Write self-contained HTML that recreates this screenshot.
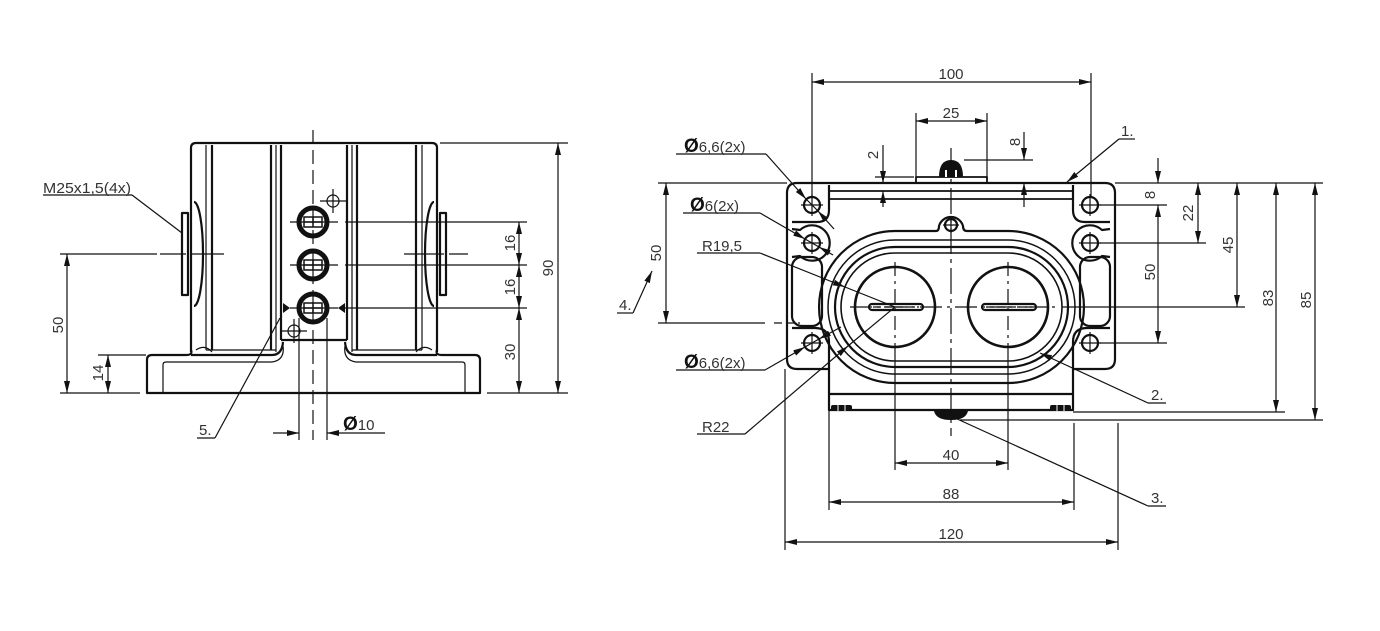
<!DOCTYPE html>
<html><head><meta charset="utf-8">
<style>
html,body{margin:0;padding:0;background:#fff;}
svg{display:block;}
text{font-family:"Liberation Sans",sans-serif;font-size:15px;fill:#333;}
.o{font-size:19px;font-weight:bold;fill:#111;}
</style></head><body>
<svg width="1380" height="631" viewBox="0 0 1380 631" xmlns="http://www.w3.org/2000/svg">
<defs>
<marker id="a" viewBox="0 0 12 6" markerWidth="12" markerHeight="6" refX="12" refY="3" orient="auto-start-reverse" markerUnits="userSpaceOnUse"><path d="M0,0 L12,3 L0,6 z" fill="#111"/></marker>
</defs>
<rect width="1380" height="631" fill="#fff"/>

<!-- ================= LEFT VIEW ================= -->
<g fill="none" stroke="#111" stroke-width="2.2" stroke-linejoin="round">
  <!-- body outline -->
  <path d="M191 352 L191 148 Q191 143 196 143 L432 143 Q437 143 437 148 L437 352"/>
  <line x1="212" y1="145" x2="212" y2="350"/>
  <line x1="271" y1="145" x2="271" y2="350"/>
  <line x1="281" y1="145" x2="281" y2="340"/>
  <line x1="347" y1="145" x2="347" y2="340"/>
  <line x1="357" y1="145" x2="357" y2="350"/>
  <line x1="416" y1="145" x2="416" y2="350"/>
  <line x1="281" y1="340" x2="347" y2="340"/>
  <!-- base -->
  <path d="M191 350 Q193 355 186 355 L152 355 Q147 355 147 360 L147 393 L480 393 L480 360 Q480 355 475 355 L442 355 Q435 355 437 350"/>
  <path d="M191 355 L272 355 Q282 355 283 342"/>
  <path d="M437 355 L356 355 Q346 355 345 342"/>
  <!-- ports -->
  <rect x="182" y="213" width="6" height="82"/>
  <path d="M194 202 A9 52 0 0 1 194 306"/>
  <rect x="440" y="213" width="6" height="82"/>
  <path d="M434 202 A9 52 0 0 0 434 306"/>
</g>
<g fill="none" stroke="#111" stroke-width="1.2">
  <line x1="206" y1="145" x2="206" y2="350"/>
  <line x1="276" y1="145" x2="276" y2="352"/>
  <line x1="352" y1="145" x2="352" y2="352"/>
  <line x1="422" y1="145" x2="422" y2="350"/>
  <line x1="206" y1="350" x2="276" y2="350"/>
  <line x1="352" y1="350" x2="422" y2="350"/>
  <path d="M163 393 L163 365 Q163 362 166 362 L272 362 Q285 360 283 346"/>
  <path d="M465 393 L465 365 Q465 362 462 362 L356 362 Q343 360 345 346"/>
  <path d="M196 350 Q205 344 212 352"/>
  <path d="M432 350 Q423 344 416 352"/>
  <!-- port center lines -->
  <line x1="160" y1="254" x2="224" y2="254" stroke-dasharray="26 5 40 0"/>
  <line x1="404" y1="254" x2="468" y2="254" stroke-dasharray="40 5 26 0"/>
  <!-- center axis -->
  <line x1="313" y1="130" x2="313" y2="440" stroke-dasharray="14 6"/>
  <!-- hole cross lines -->
  <line x1="290" y1="222" x2="338" y2="222"/>
  <line x1="290" y1="265" x2="338" y2="265"/>
  <line x1="290" y1="308" x2="338" y2="308"/>
  <line x1="345" y1="222" x2="527" y2="222"/>
  <line x1="345" y1="265" x2="527" y2="265"/>
  <line x1="345" y1="308" x2="527" y2="308"/>
  <!-- small crosshair holes -->
  <circle cx="333" cy="201" r="6"/>
  <line x1="320" y1="201" x2="346" y2="201"/><line x1="333" y1="189" x2="333" y2="213"/>
  <circle cx="294" cy="331" r="6"/>
  <line x1="281" y1="331" x2="307" y2="331"/><line x1="294" y1="319" x2="294" y2="343"/>
  <!-- Ø10 extension -->
  <line x1="299" y1="318" x2="299" y2="440"/>
  <line x1="327" y1="318" x2="327" y2="440"/>
  <!-- dims -->
  <line x1="60" y1="254" x2="157" y2="254"/>
  <line x1="60" y1="393" x2="140" y2="393"/>
  <line x1="98" y1="355" x2="146" y2="355"/>
  <line x1="67" y1="254" x2="67" y2="393" marker-start="url(#a)" marker-end="url(#a)"/>
  <line x1="108" y1="355" x2="108" y2="393" marker-start="url(#a)" marker-end="url(#a)"/>
  <line x1="440" y1="143" x2="568" y2="143"/>
  <line x1="487" y1="393" x2="568" y2="393"/>
  <line x1="519" y1="222" x2="519" y2="265" marker-start="url(#a)" marker-end="url(#a)"/>
  <line x1="519" y1="265" x2="519" y2="308" marker-start="url(#a)" marker-end="url(#a)"/>
  <line x1="519" y1="308" x2="519" y2="393" marker-start="url(#a)" marker-end="url(#a)"/>
  <line x1="558" y1="143" x2="558" y2="393" marker-start="url(#a)" marker-end="url(#a)"/>
  <line x1="273" y1="433" x2="299" y2="433" marker-end="url(#a)"/>
  <line x1="385" y1="433" x2="327" y2="433" marker-end="url(#a)"/>
  <!-- labels -->
  <line x1="43" y1="195" x2="132" y2="195"/>
  <line x1="132" y1="195" x2="182" y2="233"/>
  <line x1="197" y1="438" x2="215" y2="438"/>
  <line x1="215" y1="438" x2="280" y2="318"/>
</g>
<!-- indicator holes -->
<g fill="none" stroke="#111">
  <circle cx="313" cy="222" r="14" stroke-width="5"/>
  <circle cx="313" cy="265" r="14" stroke-width="5"/>
  <circle cx="313" cy="308" r="14" stroke-width="5"/>
  <g stroke-width="1.5">
    <rect x="304" y="217" width="18" height="10"/><line x1="304" y1="222" x2="322" y2="222"/><line x1="313" y1="217" x2="313" y2="227"/>
    <rect x="304" y="260" width="18" height="10"/><line x1="304" y1="265" x2="322" y2="265"/><line x1="313" y1="260" x2="313" y2="270"/>
    <rect x="304" y="303" width="18" height="10"/><line x1="304" y1="308" x2="322" y2="308"/><line x1="313" y1="303" x2="313" y2="313"/>
  </g>
</g>
<polygon points="283,303 290,308 283,313" fill="#111"/>
<polygon points="345,303 338,308 345,313" fill="#111"/>

<text x="43" y="193" textLength="88" lengthAdjust="spacingAndGlyphs">M25x1,5(4x)</text>
<text x="199" y="435">5.</text>
<text x="343" y="430"><tspan class="o">Ø</tspan>10</text>
<text transform="translate(63,325) rotate(-90)" text-anchor="middle">50</text>
<text transform="translate(103,373) rotate(-90)" text-anchor="middle">14</text>
<text transform="translate(515,243) rotate(-90)" text-anchor="middle">16</text>
<text transform="translate(515,287) rotate(-90)" text-anchor="middle">16</text>
<text transform="translate(515,352) rotate(-90)" text-anchor="middle">30</text>
<text transform="translate(553,268) rotate(-90)" text-anchor="middle">90</text>

<!-- ================= RIGHT VIEW ================= -->
<g fill="none" stroke="#111" stroke-width="2.2" stroke-linejoin="round">
  <!-- outline -->
  <path d="M797 183 L1105 183 Q1115 183 1115 193 L1115 359 Q1115 369 1105 369 L1073 369 L1073 410 L829 410 L829 369 L797 369 Q787 369 787 359 L787 193 Q787 183 797 183 Z"/>
  <!-- tabs -->
  <path d="M829 185 L829 210 Q829 222 817 222 L792 222"/>
  <path d="M792 229 L800 230 A17.7 17.7 0 1 1 800 256 L792 257"/>
  <rect x="792" y="257" width="30" height="69" rx="10"/>
  <path d="M792 328 L815 328 Q829 328 829 342 L829 369"/>
  <path d="M1073 185 L1073 210 Q1073 222 1085 222 L1110 222"/>
  <path d="M1110 229 L1102 230 A17.7 17.7 0 1 0 1102 256 L1110 257"/>
  <rect x="1080" y="257" width="30" height="69" rx="10"/>
  <path d="M1110 328 L1087 328 Q1073 328 1073 342 L1073 369"/>
  <!-- top band -->
  <line x1="829" y1="191" x2="1073" y2="191" stroke-width="1.8"/>
  <line x1="829" y1="199" x2="1073" y2="199" stroke-width="1.8"/>
  <!-- lower body -->
  <line x1="829" y1="394" x2="1073" y2="394"/>
  <!-- knob plate -->
  <rect x="916" y="177" width="71" height="6" stroke-width="1.8"/>
  <!-- rings -->
  <path d="M895 231 L936 231 Q939 231 939 226 A12.5 12.5 0 0 1 963 226 Q963 231 967 231 L1008 231 A76 76 0 0 1 1008 383 L895 383 A76 76 0 0 1 895 231 Z"/>
  <path d="M895 240 L1008 240 A67 67 0 0 1 1008 374 L895 374 A67 67 0 0 1 895 240 Z" stroke-width="1.5"/>
  <path d="M895 247 L1008 247 A60 60 0 0 1 1008 367 L895 367 A60 60 0 0 1 895 247 Z"/>
  <path d="M895 253 L1008 253 A54 54 0 0 1 1008 361 L895 361 A54 54 0 0 1 895 253 Z" stroke-width="1.6"/>
  <!-- big circles -->
  <circle cx="895" cy="307" r="40" stroke-width="2.6"/>
  <circle cx="1008" cy="307" r="40" stroke-width="2.6"/>
  <rect x="869" y="304" width="54" height="6" rx="3"/>
  <rect x="982" y="304" width="54" height="6" rx="3"/>
  <!-- holes -->
  <circle cx="812" cy="205" r="8"/><circle cx="812" cy="243" r="8"/><circle cx="812" cy="343" r="8"/>
  <circle cx="1090" cy="205" r="8"/><circle cx="1090" cy="243" r="8"/><circle cx="1090" cy="343" r="8"/>
  <circle cx="951" cy="225" r="6"/>
</g>
<!-- knob dome and bottom knob -->
<path d="M939 177 Q939 160 951 160 Q963 160 963 177 Z" fill="#111"/>
<path d="M946 177 L946 170 M956 177 L956 170" stroke="#fff" stroke-width="2"/>
<path d="M934 411 Q936 420 951 420 Q966 420 968 411 Z" fill="#111"/>
<rect x="831" y="405" width="21" height="6" rx="2" fill="#111"/>
<rect x="1050" y="405" width="21" height="6" rx="2" fill="#111"/>
<g fill="none" stroke="#fff" stroke-width="1">
  <line x1="838" y1="405" x2="838" y2="411"/><line x1="845" y1="405" x2="845" y2="411"/>
  <line x1="1057" y1="405" x2="1057" y2="411"/><line x1="1064" y1="405" x2="1064" y2="411"/>
</g>
<g fill="none" stroke="#111" stroke-width="1.2">
  <!-- hole crosses -->
  <path d="M801 205 H823 M812 194 V216 M801 243 H823 M812 232 V254 M801 343 H823 M812 332 V354"/>
  <path d="M1079 205 H1101 M1090 194 V216 M1079 243 H1101 M1090 232 V254 M1079 343 H1101 M1090 332 V354"/>
  <path d="M943 225 H959 M951 217 V233"/>
  <!-- slot dashes -->
  <line x1="873" y1="307" x2="919" y2="307" stroke-dasharray="8 3"/>
  <line x1="986" y1="307" x2="1032" y2="307" stroke-dasharray="8 3"/>
  <!-- axes -->
  <line x1="850" y1="307" x2="1055" y2="307" stroke-dasharray="22 5 3 5"/>
  <line x1="895" y1="262" x2="895" y2="352" stroke-dasharray="14 5 3 5"/>
  <line x1="1008" y1="262" x2="1008" y2="352" stroke-dasharray="14 5 3 5"/>
  <line x1="951" y1="148" x2="951" y2="436" stroke-dasharray="26 5 4 5"/>
  <!-- extension lines -->
  <line x1="812" y1="73" x2="812" y2="196"/>
  <line x1="1091" y1="73" x2="1091" y2="196"/>
  <line x1="916" y1="113" x2="916" y2="177"/>
  <line x1="987" y1="113" x2="987" y2="177"/>
  <line x1="875" y1="177" x2="914" y2="177"/>
  <line x1="964" y1="160" x2="1033" y2="160"/>
  <line x1="1115" y1="183" x2="1323" y2="183"/>
  <line x1="1100" y1="205" x2="1167" y2="205"/>
  <line x1="1100" y1="243" x2="1206" y2="243"/>
  <line x1="1062" y1="307" x2="1245" y2="307"/>
  <line x1="1100" y1="343" x2="1167" y2="343"/>
  <line x1="1073" y1="412" x2="1285" y2="412"/>
  <line x1="960" y1="420" x2="1323" y2="420"/>
  <line x1="658" y1="183" x2="787" y2="183"/>
  <line x1="658" y1="323" x2="765" y2="323"/>
  <line x1="774" y1="323" x2="800" y2="323" stroke-dasharray="8 4"/>
  <line x1="895" y1="352" x2="895" y2="470"/>
  <line x1="1008" y1="352" x2="1008" y2="470"/>
  <line x1="829" y1="410" x2="829" y2="510"/>
  <line x1="1074" y1="423" x2="1074" y2="510"/>
  <line x1="785" y1="369" x2="785" y2="550"/>
  <line x1="1118" y1="423" x2="1118" y2="550"/>
  <!-- dimension lines -->
  <line x1="812" y1="82" x2="1091" y2="82" marker-start="url(#a)" marker-end="url(#a)"/>
  <line x1="916" y1="121" x2="987" y2="121" marker-start="url(#a)" marker-end="url(#a)"/>
  <line x1="883" y1="145" x2="883" y2="183" marker-end="url(#a)"/>
  <line x1="883" y1="207" x2="883" y2="191" marker-end="url(#a)"/>
  <line x1="1024" y1="132" x2="1024" y2="160" marker-end="url(#a)"/>
  <line x1="1024" y1="207" x2="1024" y2="183" marker-end="url(#a)"/>
  <line x1="1158" y1="158" x2="1158" y2="183" marker-end="url(#a)"/>
  <line x1="1158" y1="205" x2="1158" y2="343" marker-start="url(#a)" marker-end="url(#a)"/>
  <line x1="1198" y1="183" x2="1198" y2="243" marker-start="url(#a)" marker-end="url(#a)"/>
  <line x1="1237" y1="183" x2="1237" y2="307" marker-start="url(#a)" marker-end="url(#a)"/>
  <line x1="1276" y1="183" x2="1276" y2="412" marker-start="url(#a)" marker-end="url(#a)"/>
  <line x1="1315" y1="183" x2="1315" y2="420" marker-start="url(#a)" marker-end="url(#a)"/>
  <line x1="666" y1="183" x2="666" y2="323" marker-start="url(#a)" marker-end="url(#a)"/>
  <line x1="895" y1="463" x2="1008" y2="463" marker-start="url(#a)" marker-end="url(#a)"/>
  <line x1="829" y1="502" x2="1074" y2="502" marker-start="url(#a)" marker-end="url(#a)"/>
  <line x1="785" y1="542" x2="1118" y2="542" marker-start="url(#a)" marker-end="url(#a)"/>
  <!-- leaders -->
  <line x1="676" y1="154" x2="766" y2="154"/>
  <line x1="766" y1="154" x2="806" y2="199" marker-end="url(#a)"/>
  <line x1="834" y1="229" x2="818" y2="211" marker-end="url(#a)"/>
  <line x1="806" y1="199" x2="818" y2="211"/>
  <line x1="683" y1="213" x2="760" y2="213"/>
  <line x1="760" y1="213" x2="805" y2="239" marker-end="url(#a)"/>
  <line x1="833" y1="255" x2="819" y2="247" marker-end="url(#a)"/>
  <line x1="805" y1="239" x2="819" y2="247"/>
  <line x1="697" y1="253" x2="760" y2="253"/>
  <line x1="760" y1="253" x2="845" y2="287" marker-end="url(#a)"/>
  <line x1="845" y1="287" x2="895" y2="307"/>
  <line x1="676" y1="370" x2="765" y2="370"/>
  <line x1="765" y1="370" x2="805" y2="347" marker-end="url(#a)"/>
  <line x1="841" y1="327" x2="819" y2="339" marker-end="url(#a)"/>
  <line x1="805" y1="347" x2="819" y2="339"/>
  <line x1="697" y1="434" x2="745" y2="434"/>
  <line x1="745" y1="434" x2="848" y2="346" marker-end="url(#a)"/>
  <line x1="848" y1="346" x2="895" y2="307"/>
  <line x1="617" y1="313" x2="633" y2="313"/>
  <line x1="633" y1="313" x2="652" y2="271" marker-end="url(#a)"/>
  <line x1="1135" y1="139" x2="1119" y2="139"/>
  <line x1="1119" y1="139" x2="1067" y2="182" marker-end="url(#a)"/>
  <line x1="1166" y1="403" x2="1148" y2="403"/>
  <line x1="1148" y1="403" x2="1040" y2="353" marker-end="url(#a)"/>
  <line x1="1166" y1="506" x2="1148" y2="506"/>
  <line x1="1148" y1="506" x2="955" y2="418"/>
</g>

<text x="951" y="79" text-anchor="middle">100</text>
<text x="951" y="118" text-anchor="middle">25</text>
<text x="951" y="460" text-anchor="middle">40</text>
<text x="951" y="499" text-anchor="middle">88</text>
<text x="951" y="539" text-anchor="middle">120</text>
<text transform="translate(878,155) rotate(-90)" text-anchor="middle">2</text>
<text transform="translate(1020,142) rotate(-90)" text-anchor="middle">8</text>
<text transform="translate(1155,195) rotate(-90)" text-anchor="middle">8</text>
<text transform="translate(1193,213) rotate(-90)" text-anchor="middle">22</text>
<text transform="translate(1233,245) rotate(-90)" text-anchor="middle">45</text>
<text transform="translate(1155,272) rotate(-90)" text-anchor="middle">50</text>
<text transform="translate(1273,298) rotate(-90)" text-anchor="middle">83</text>
<text transform="translate(1311,300) rotate(-90)" text-anchor="middle">85</text>
<text transform="translate(661,253) rotate(-90)" text-anchor="middle">50</text>

<text x="684" y="152"><tspan class="o">Ø</tspan>6,6(2x)</text>
<text x="690" y="211"><tspan class="o">Ø</tspan>6(2x)</text>
<text x="702" y="251">R19,5</text>
<text x="684" y="368"><tspan class="o">Ø</tspan>6,6(2x)</text>
<text x="702" y="432">R22</text>
<text x="619" y="310">4.</text>
<text x="1121" y="136">1.</text>
<text x="1151" y="400">2.</text>
<text x="1151" y="503">3.</text>
</svg>
</body></html>
